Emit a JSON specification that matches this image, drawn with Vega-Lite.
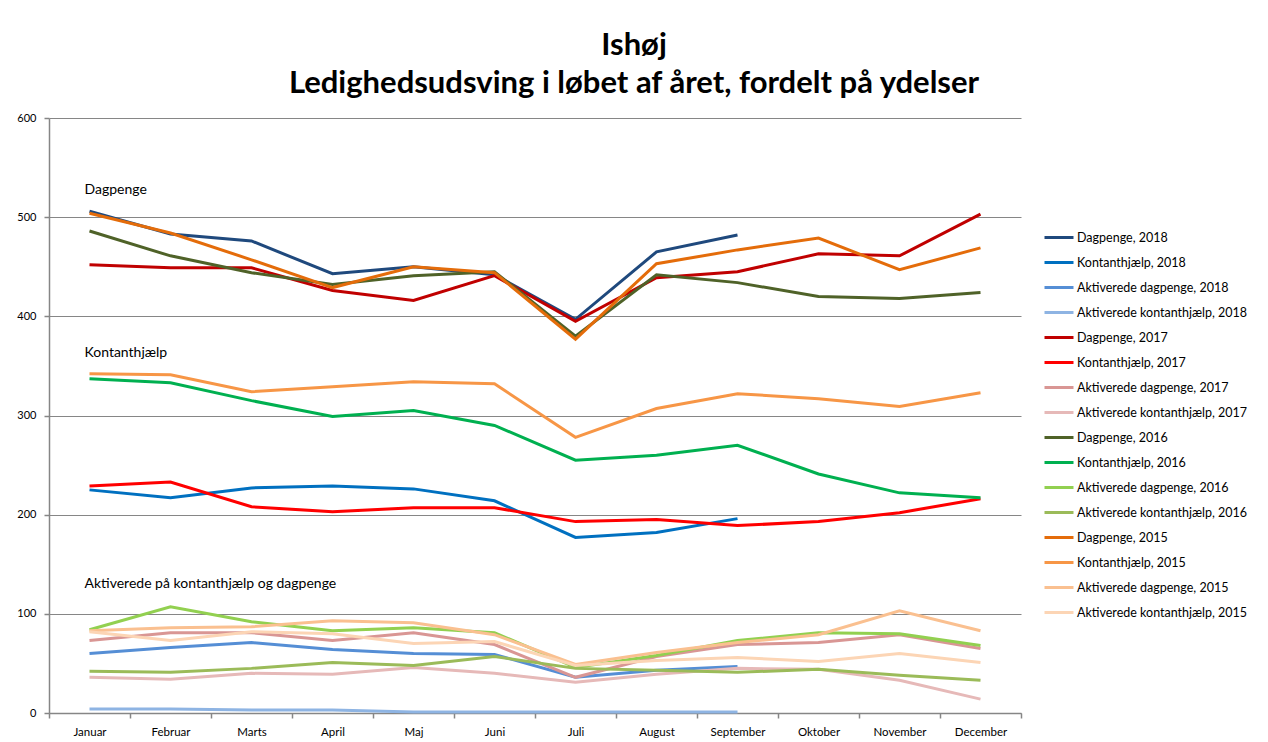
{
  "$schema": "https://vega.github.io/schema/vega-lite/v6.json",
  "width": 972,
  "height": 595,
  "autosize": {"type": "none"},
  "padding": {"left": 49, "top": 118, "right": 247, "bottom": 29},
  "background": "white",
  "config": {
    "font": "Lato",
    "view": {"stroke": null},
    "axis": {"labelFont": "Lato", "labelColor": "#000000", "domainColor": "#868686", "tickColor": "#868686", "gridColor": "#868686", "titleFont": "Lato"}
  },
  "title": {
    "text": "Ishøj",
    "subtitle": "Ledighedsudsving i løbet af året, fordelt på ydelser",
    "font": "Lato",
    "subtitleFont": "Lato",
    "fontSize": 31,
    "subtitleFontSize": 31,
    "fontWeight": "bold",
    "subtitleFontWeight": "bold",
    "color": "#000000",
    "subtitleColor": "#000000",
    "anchor": "middle",
    "frame": "group",
    "dx": 99,
    "offset": 12,
    "subtitlePadding": 7
  },
  "datasets": {
    "lines": [
      {"serie": "Dagpenge, 2018", "maaned": "Januar", "antal": 506},
      {"serie": "Dagpenge, 2018", "maaned": "Februar", "antal": 483},
      {"serie": "Dagpenge, 2018", "maaned": "Marts", "antal": 476},
      {"serie": "Dagpenge, 2018", "maaned": "April", "antal": 443},
      {"serie": "Dagpenge, 2018", "maaned": "Maj", "antal": 450},
      {"serie": "Dagpenge, 2018", "maaned": "Juni", "antal": 442},
      {"serie": "Dagpenge, 2018", "maaned": "Juli", "antal": 397},
      {"serie": "Dagpenge, 2018", "maaned": "August", "antal": 465},
      {"serie": "Dagpenge, 2018", "maaned": "September", "antal": 482},
      {"serie": "Kontanthjælp, 2018", "maaned": "Januar", "antal": 225},
      {"serie": "Kontanthjælp, 2018", "maaned": "Februar", "antal": 217},
      {"serie": "Kontanthjælp, 2018", "maaned": "Marts", "antal": 227},
      {"serie": "Kontanthjælp, 2018", "maaned": "April", "antal": 229},
      {"serie": "Kontanthjælp, 2018", "maaned": "Maj", "antal": 226},
      {"serie": "Kontanthjælp, 2018", "maaned": "Juni", "antal": 214},
      {"serie": "Kontanthjælp, 2018", "maaned": "Juli", "antal": 177},
      {"serie": "Kontanthjælp, 2018", "maaned": "August", "antal": 182},
      {"serie": "Kontanthjælp, 2018", "maaned": "September", "antal": 196},
      {"serie": "Aktiverede dagpenge, 2018", "maaned": "Januar", "antal": 60},
      {"serie": "Aktiverede dagpenge, 2018", "maaned": "Februar", "antal": 66},
      {"serie": "Aktiverede dagpenge, 2018", "maaned": "Marts", "antal": 71},
      {"serie": "Aktiverede dagpenge, 2018", "maaned": "April", "antal": 64},
      {"serie": "Aktiverede dagpenge, 2018", "maaned": "Maj", "antal": 60},
      {"serie": "Aktiverede dagpenge, 2018", "maaned": "Juni", "antal": 59},
      {"serie": "Aktiverede dagpenge, 2018", "maaned": "Juli", "antal": 36},
      {"serie": "Aktiverede dagpenge, 2018", "maaned": "August", "antal": 43},
      {"serie": "Aktiverede dagpenge, 2018", "maaned": "September", "antal": 47},
      {"serie": "Aktiverede kontanthjælp, 2018", "maaned": "Januar", "antal": 4},
      {"serie": "Aktiverede kontanthjælp, 2018", "maaned": "Februar", "antal": 4},
      {"serie": "Aktiverede kontanthjælp, 2018", "maaned": "Marts", "antal": 3},
      {"serie": "Aktiverede kontanthjælp, 2018", "maaned": "April", "antal": 3},
      {"serie": "Aktiverede kontanthjælp, 2018", "maaned": "Maj", "antal": 1},
      {"serie": "Aktiverede kontanthjælp, 2018", "maaned": "Juni", "antal": 1},
      {"serie": "Aktiverede kontanthjælp, 2018", "maaned": "Juli", "antal": 1},
      {"serie": "Aktiverede kontanthjælp, 2018", "maaned": "August", "antal": 1},
      {"serie": "Aktiverede kontanthjælp, 2018", "maaned": "September", "antal": 1},
      {"serie": "Dagpenge, 2017", "maaned": "Januar", "antal": 452},
      {"serie": "Dagpenge, 2017", "maaned": "Februar", "antal": 449},
      {"serie": "Dagpenge, 2017", "maaned": "Marts", "antal": 449},
      {"serie": "Dagpenge, 2017", "maaned": "April", "antal": 426},
      {"serie": "Dagpenge, 2017", "maaned": "Maj", "antal": 416},
      {"serie": "Dagpenge, 2017", "maaned": "Juni", "antal": 441},
      {"serie": "Dagpenge, 2017", "maaned": "Juli", "antal": 395},
      {"serie": "Dagpenge, 2017", "maaned": "August", "antal": 439},
      {"serie": "Dagpenge, 2017", "maaned": "September", "antal": 445},
      {"serie": "Dagpenge, 2017", "maaned": "Oktober", "antal": 463},
      {"serie": "Dagpenge, 2017", "maaned": "November", "antal": 461},
      {"serie": "Dagpenge, 2017", "maaned": "December", "antal": 503},
      {"serie": "Kontanthjælp, 2017", "maaned": "Januar", "antal": 229},
      {"serie": "Kontanthjælp, 2017", "maaned": "Februar", "antal": 233},
      {"serie": "Kontanthjælp, 2017", "maaned": "Marts", "antal": 208},
      {"serie": "Kontanthjælp, 2017", "maaned": "April", "antal": 203},
      {"serie": "Kontanthjælp, 2017", "maaned": "Maj", "antal": 207},
      {"serie": "Kontanthjælp, 2017", "maaned": "Juni", "antal": 207},
      {"serie": "Kontanthjælp, 2017", "maaned": "Juli", "antal": 193},
      {"serie": "Kontanthjælp, 2017", "maaned": "August", "antal": 195},
      {"serie": "Kontanthjælp, 2017", "maaned": "September", "antal": 189},
      {"serie": "Kontanthjælp, 2017", "maaned": "Oktober", "antal": 193},
      {"serie": "Kontanthjælp, 2017", "maaned": "November", "antal": 202},
      {"serie": "Kontanthjælp, 2017", "maaned": "December", "antal": 216},
      {"serie": "Aktiverede dagpenge, 2017", "maaned": "Januar", "antal": 73},
      {"serie": "Aktiverede dagpenge, 2017", "maaned": "Februar", "antal": 81},
      {"serie": "Aktiverede dagpenge, 2017", "maaned": "Marts", "antal": 81},
      {"serie": "Aktiverede dagpenge, 2017", "maaned": "April", "antal": 73},
      {"serie": "Aktiverede dagpenge, 2017", "maaned": "Maj", "antal": 81},
      {"serie": "Aktiverede dagpenge, 2017", "maaned": "Juni", "antal": 69},
      {"serie": "Aktiverede dagpenge, 2017", "maaned": "Juli", "antal": 36},
      {"serie": "Aktiverede dagpenge, 2017", "maaned": "August", "antal": 57},
      {"serie": "Aktiverede dagpenge, 2017", "maaned": "September", "antal": 69},
      {"serie": "Aktiverede dagpenge, 2017", "maaned": "Oktober", "antal": 71},
      {"serie": "Aktiverede dagpenge, 2017", "maaned": "November", "antal": 79},
      {"serie": "Aktiverede dagpenge, 2017", "maaned": "December", "antal": 65},
      {"serie": "Aktiverede kontanthjælp, 2017", "maaned": "Januar", "antal": 36},
      {"serie": "Aktiverede kontanthjælp, 2017", "maaned": "Februar", "antal": 34},
      {"serie": "Aktiverede kontanthjælp, 2017", "maaned": "Marts", "antal": 40},
      {"serie": "Aktiverede kontanthjælp, 2017", "maaned": "April", "antal": 39},
      {"serie": "Aktiverede kontanthjælp, 2017", "maaned": "Maj", "antal": 46},
      {"serie": "Aktiverede kontanthjælp, 2017", "maaned": "Juni", "antal": 40},
      {"serie": "Aktiverede kontanthjælp, 2017", "maaned": "Juli", "antal": 31},
      {"serie": "Aktiverede kontanthjælp, 2017", "maaned": "August", "antal": 39},
      {"serie": "Aktiverede kontanthjælp, 2017", "maaned": "September", "antal": 45},
      {"serie": "Aktiverede kontanthjælp, 2017", "maaned": "Oktober", "antal": 44},
      {"serie": "Aktiverede kontanthjælp, 2017", "maaned": "November", "antal": 33},
      {"serie": "Aktiverede kontanthjælp, 2017", "maaned": "December", "antal": 14},
      {"serie": "Dagpenge, 2016", "maaned": "Januar", "antal": 486},
      {"serie": "Dagpenge, 2016", "maaned": "Februar", "antal": 461},
      {"serie": "Dagpenge, 2016", "maaned": "Marts", "antal": 444},
      {"serie": "Dagpenge, 2016", "maaned": "April", "antal": 432},
      {"serie": "Dagpenge, 2016", "maaned": "Maj", "antal": 441},
      {"serie": "Dagpenge, 2016", "maaned": "Juni", "antal": 445},
      {"serie": "Dagpenge, 2016", "maaned": "Juli", "antal": 380},
      {"serie": "Dagpenge, 2016", "maaned": "August", "antal": 442},
      {"serie": "Dagpenge, 2016", "maaned": "September", "antal": 434},
      {"serie": "Dagpenge, 2016", "maaned": "Oktober", "antal": 420},
      {"serie": "Dagpenge, 2016", "maaned": "November", "antal": 418},
      {"serie": "Dagpenge, 2016", "maaned": "December", "antal": 424},
      {"serie": "Kontanthjælp, 2016", "maaned": "Januar", "antal": 337},
      {"serie": "Kontanthjælp, 2016", "maaned": "Februar", "antal": 333},
      {"serie": "Kontanthjælp, 2016", "maaned": "Marts", "antal": 315},
      {"serie": "Kontanthjælp, 2016", "maaned": "April", "antal": 299},
      {"serie": "Kontanthjælp, 2016", "maaned": "Maj", "antal": 305},
      {"serie": "Kontanthjælp, 2016", "maaned": "Juni", "antal": 290},
      {"serie": "Kontanthjælp, 2016", "maaned": "Juli", "antal": 255},
      {"serie": "Kontanthjælp, 2016", "maaned": "August", "antal": 260},
      {"serie": "Kontanthjælp, 2016", "maaned": "September", "antal": 270},
      {"serie": "Kontanthjælp, 2016", "maaned": "Oktober", "antal": 241},
      {"serie": "Kontanthjælp, 2016", "maaned": "November", "antal": 222},
      {"serie": "Kontanthjælp, 2016", "maaned": "December", "antal": 217},
      {"serie": "Aktiverede dagpenge, 2016", "maaned": "Januar", "antal": 84},
      {"serie": "Aktiverede dagpenge, 2016", "maaned": "Februar", "antal": 107},
      {"serie": "Aktiverede dagpenge, 2016", "maaned": "Marts", "antal": 92},
      {"serie": "Aktiverede dagpenge, 2016", "maaned": "April", "antal": 83},
      {"serie": "Aktiverede dagpenge, 2016", "maaned": "Maj", "antal": 86},
      {"serie": "Aktiverede dagpenge, 2016", "maaned": "Juni", "antal": 81},
      {"serie": "Aktiverede dagpenge, 2016", "maaned": "Juli", "antal": 46},
      {"serie": "Aktiverede dagpenge, 2016", "maaned": "August", "antal": 58},
      {"serie": "Aktiverede dagpenge, 2016", "maaned": "September", "antal": 73},
      {"serie": "Aktiverede dagpenge, 2016", "maaned": "Oktober", "antal": 81},
      {"serie": "Aktiverede dagpenge, 2016", "maaned": "November", "antal": 80},
      {"serie": "Aktiverede dagpenge, 2016", "maaned": "December", "antal": 68},
      {"serie": "Aktiverede kontanthjælp, 2016", "maaned": "Januar", "antal": 42},
      {"serie": "Aktiverede kontanthjælp, 2016", "maaned": "Februar", "antal": 41},
      {"serie": "Aktiverede kontanthjælp, 2016", "maaned": "Marts", "antal": 45},
      {"serie": "Aktiverede kontanthjælp, 2016", "maaned": "April", "antal": 51},
      {"serie": "Aktiverede kontanthjælp, 2016", "maaned": "Maj", "antal": 48},
      {"serie": "Aktiverede kontanthjælp, 2016", "maaned": "Juni", "antal": 57},
      {"serie": "Aktiverede kontanthjælp, 2016", "maaned": "Juli", "antal": 45},
      {"serie": "Aktiverede kontanthjælp, 2016", "maaned": "August", "antal": 43},
      {"serie": "Aktiverede kontanthjælp, 2016", "maaned": "September", "antal": 41},
      {"serie": "Aktiverede kontanthjælp, 2016", "maaned": "Oktober", "antal": 44},
      {"serie": "Aktiverede kontanthjælp, 2016", "maaned": "November", "antal": 38},
      {"serie": "Aktiverede kontanthjælp, 2016", "maaned": "December", "antal": 33},
      {"serie": "Dagpenge, 2015", "maaned": "Januar", "antal": 504},
      {"serie": "Dagpenge, 2015", "maaned": "Februar", "antal": 484},
      {"serie": "Dagpenge, 2015", "maaned": "Marts", "antal": 457},
      {"serie": "Dagpenge, 2015", "maaned": "April", "antal": 429},
      {"serie": "Dagpenge, 2015", "maaned": "Maj", "antal": 450},
      {"serie": "Dagpenge, 2015", "maaned": "Juni", "antal": 444},
      {"serie": "Dagpenge, 2015", "maaned": "Juli", "antal": 377},
      {"serie": "Dagpenge, 2015", "maaned": "August", "antal": 453},
      {"serie": "Dagpenge, 2015", "maaned": "September", "antal": 467},
      {"serie": "Dagpenge, 2015", "maaned": "Oktober", "antal": 479},
      {"serie": "Dagpenge, 2015", "maaned": "November", "antal": 447},
      {"serie": "Dagpenge, 2015", "maaned": "December", "antal": 469},
      {"serie": "Kontanthjælp, 2015", "maaned": "Januar", "antal": 342},
      {"serie": "Kontanthjælp, 2015", "maaned": "Februar", "antal": 341},
      {"serie": "Kontanthjælp, 2015", "maaned": "Marts", "antal": 324},
      {"serie": "Kontanthjælp, 2015", "maaned": "April", "antal": 329},
      {"serie": "Kontanthjælp, 2015", "maaned": "Maj", "antal": 334},
      {"serie": "Kontanthjælp, 2015", "maaned": "Juni", "antal": 332},
      {"serie": "Kontanthjælp, 2015", "maaned": "Juli", "antal": 278},
      {"serie": "Kontanthjælp, 2015", "maaned": "August", "antal": 307},
      {"serie": "Kontanthjælp, 2015", "maaned": "September", "antal": 322},
      {"serie": "Kontanthjælp, 2015", "maaned": "Oktober", "antal": 317},
      {"serie": "Kontanthjælp, 2015", "maaned": "November", "antal": 309},
      {"serie": "Kontanthjælp, 2015", "maaned": "December", "antal": 323},
      {"serie": "Aktiverede dagpenge, 2015", "maaned": "Januar", "antal": 83},
      {"serie": "Aktiverede dagpenge, 2015", "maaned": "Februar", "antal": 86},
      {"serie": "Aktiverede dagpenge, 2015", "maaned": "Marts", "antal": 87},
      {"serie": "Aktiverede dagpenge, 2015", "maaned": "April", "antal": 93},
      {"serie": "Aktiverede dagpenge, 2015", "maaned": "Maj", "antal": 91},
      {"serie": "Aktiverede dagpenge, 2015", "maaned": "Juni", "antal": 79},
      {"serie": "Aktiverede dagpenge, 2015", "maaned": "Juli", "antal": 49},
      {"serie": "Aktiverede dagpenge, 2015", "maaned": "August", "antal": 61},
      {"serie": "Aktiverede dagpenge, 2015", "maaned": "September", "antal": 71},
      {"serie": "Aktiverede dagpenge, 2015", "maaned": "Oktober", "antal": 79},
      {"serie": "Aktiverede dagpenge, 2015", "maaned": "November", "antal": 103},
      {"serie": "Aktiverede dagpenge, 2015", "maaned": "December", "antal": 83},
      {"serie": "Aktiverede kontanthjælp, 2015", "maaned": "Januar", "antal": 82},
      {"serie": "Aktiverede kontanthjælp, 2015", "maaned": "Februar", "antal": 73},
      {"serie": "Aktiverede kontanthjælp, 2015", "maaned": "Marts", "antal": 82},
      {"serie": "Aktiverede kontanthjælp, 2015", "maaned": "April", "antal": 80},
      {"serie": "Aktiverede kontanthjælp, 2015", "maaned": "Maj", "antal": 70},
      {"serie": "Aktiverede kontanthjælp, 2015", "maaned": "Juni", "antal": 72},
      {"serie": "Aktiverede kontanthjælp, 2015", "maaned": "Juli", "antal": 48},
      {"serie": "Aktiverede kontanthjælp, 2015", "maaned": "August", "antal": 53},
      {"serie": "Aktiverede kontanthjælp, 2015", "maaned": "September", "antal": 56},
      {"serie": "Aktiverede kontanthjælp, 2015", "maaned": "Oktober", "antal": 52},
      {"serie": "Aktiverede kontanthjælp, 2015", "maaned": "November", "antal": 60},
      {"serie": "Aktiverede kontanthjælp, 2015", "maaned": "December", "antal": 51}
    ],
    "labels": [
      {"tekst": "Dagpenge", "maaned": "Januar", "antal": 527},
      {"tekst": "Kontanthjælp", "maaned": "Januar", "antal": 363},
      {"tekst": "Aktiverede på kontanthjælp og dagpenge", "maaned": "Januar", "antal": 130}
    ]
  },
  "layer": [
    {
      "data": {"name": "lines"},
      "mark": {"type": "line", "strokeWidth": 3, "interpolate": "linear"},
      "encoding": {
        "x": {
          "field": "maaned",
          "type": "nominal",
          "sort": ["Januar", "Februar", "Marts", "April", "Maj", "Juni", "Juli", "August", "September", "Oktober", "November", "December"],
          "scale": {"type": "band", "paddingInner": 0, "paddingOuter": 0},
          "axis": {
            "title": null,
            "labelAngle": 0,
            "labelFontSize": 11.5,
            "tickBand": "extent",
            "tickSize": 5,
            "labelPadding": 8,
            "domainWidth": 1.5,
            "tickWidth": 1.5,
            "grid": false
          }
        },
        "y": {
          "field": "antal",
          "type": "quantitative",
          "scale": {"domain": [0, 600], "nice": false},
          "axis": {
            "title": null,
            "values": [0, 100, 200, 300, 400, 500, 600],
            "labelFontSize": 11,
            "tickSize": 5,
            "labelPadding": 8,
            "domainWidth": 1.5,
            "tickWidth": 1.5,
            "grid": true,
            "gridWidth": 1
          }
        },
        "color": {
          "field": "serie",
          "type": "nominal",
          "scale": {
            "domain": ["Dagpenge, 2018", "Kontanthjælp, 2018", "Aktiverede dagpenge, 2018", "Aktiverede kontanthjælp, 2018", "Dagpenge, 2017", "Kontanthjælp, 2017", "Aktiverede dagpenge, 2017", "Aktiverede kontanthjælp, 2017", "Dagpenge, 2016", "Kontanthjælp, 2016", "Aktiverede dagpenge, 2016", "Aktiverede kontanthjælp, 2016", "Dagpenge, 2015", "Kontanthjælp, 2015", "Aktiverede dagpenge, 2015", "Aktiverede kontanthjælp, 2015"],
            "range": ["#1F497D", "#0070C0", "#558ED5", "#8EB4E3", "#C00000", "#FF0000", "#D99694", "#E6B9B8", "#4F6228", "#00B050", "#92D050", "#9BBB59", "#E46C0A", "#F79646", "#FAC090", "#FCD5B5"]
          },
          "legend": {
            "title": null,
            "orient": "none",
            "legendX": 998.5,
            "legendY": 108,
            "padding": 0,
            "symbolType": "M-1.45,0L1.45,0",
            "symbolSize": 400,
            "symbolStrokeWidth": 3,
            "rowPadding": 7,
            "labelOffset": 6.5,
            "labelFont": "Lato",
            "labelFontSize": 12.5,
            "labelColor": "#000000",
            "labelLimit": 300
          }
        },
        "order": {"value": 0}
      }
    },
    {
      "data": {"name": "labels"},
      "mark": {"type": "text", "align": "left", "baseline": "middle", "dx": -5, "fontSize": 14, "font": "Lato", "color": "#000000"},
      "encoding": {
        "x": {"field": "maaned", "type": "nominal", "sort": ["Januar", "Februar", "Marts", "April", "Maj", "Juni", "Juli", "August", "September", "Oktober", "November", "December"]},
        "y": {"field": "antal", "type": "quantitative"},
        "text": {"field": "tekst"}
      }
    }
  ]
}
